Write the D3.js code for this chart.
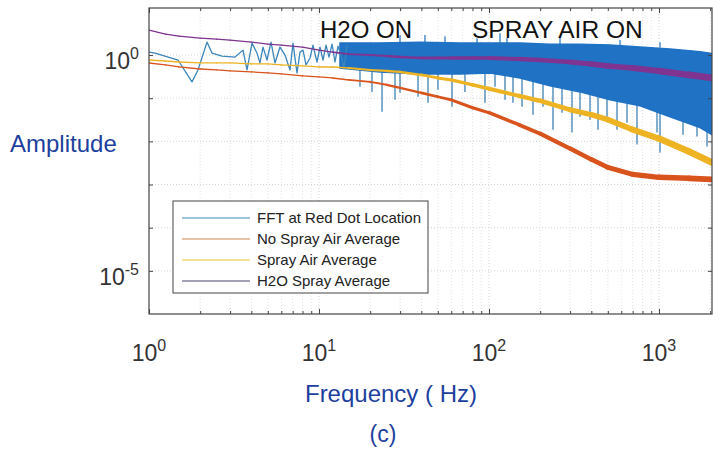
<!DOCTYPE html>
<html><head><meta charset="utf-8">
<script src="https://cdn.jsdelivr.net/npm/d3@7"></script>
<style>body{margin:0;background:#fff;} text{font-family:"Liberation Sans",Arial,sans-serif;}</style>
</head><body><svg id="c" width="719" height="449"></svg>
<script>
// ---------- data ----------
const freqAvg = [1, 1.25, 1.5, 2, 2.5, 3, 4, 5, 6, 8, 10, 12, 15, 20, 25, 30, 40, 50, 60, 80, 100, 150, 200, 300, 400, 500, 700, 1000, 1500, 2048];
const noSprayAvg = [0.655,0.589,0.530,0.475,0.451,0.428,0.406,0.385,0.365,0.328,0.311,0.295,0.265,0.239,0.204,0.174,0.133,0.108,0.0918,0.0601,0.0461,0.0244,0.0151,0.00682,0.00381,0.00249,0.00172,0.00147,0.00139,0.00132];
const sprayAvg = [0.767,0.727,0.690,0.655,0.655,0.655,0.621,0.621,0.589,0.558,0.530,0.530,0.501,0.451,0.428,0.406,0.346,0.295,0.265,0.204,0.165,0.1135,0.0871,0.0541,0.0415,0.0318,0.0187,0.0116,0.00582,0.00325];
const h2oAvg = [3.77,3.05,2.74,2.47,2.34,2.22,1.99,1.79,1.70,1.53,1.30,1.17,1.05,1.0,0.948,0.899,0.853,0.853,0.853,0.853,0.853,0.809,0.767,0.690,0.621,0.558,0.501,0.428,0.346,0.295];

// FFT at low frequency (individual bins)
const fftLowFreq = [1,1.085,1.242,1.481,1.790,1.942,2.194,2.348,2.688,3.206,3.572,3.772,4.036,4.318,4.497,4.684,4.945,5.220,5.511,5.897,6.310,6.752,7.033,7.424,7.732,8.053,8.386,8.855,9.219,9.732,10.14,10.56,11.0,11.45,11.93,12.42,12.94,13.47,14.03,14.61];
const fftLowAmp  = [1.17,1.11,0.948,0.767,0.239,0.451,1.99,1.11,0.948,0.899,1.30,0.451,1.89,1.11,0.655,1.53,0.767,1.99,0.655,1.53,1.0,0.451,1.89,0.385,1.17,1.30,0.589,0.853,1.70,0.690,1.53,0.767,1.70,0.899,1.79,0.690,1.61,1.0,0.501,1.70];
// FFT dense band envelope at higher frequency
const bandFreq  = [13.29,22.85,39.28,67.5,101.4,152.2,228.5,343.0,515,773,1160,1743,2048];
const bandUpper = [1.89,1.89,1.99,1.89,1.89,1.89,1.79,1.79,1.70,1.53,1.38,1.20,1.08];
const bandLower = [0.501,0.406,0.365,0.365,0.385,0.295,0.193,0.140,0.0918,0.0668,0.0373,0.0208,0.0143];
// FFT downward spikes
const spikeFreq = [17.42,20.50,23.48,28.0,29.96,38.23,43.77,50.1,60.6,72.2,94.7,108.5,124.2,138.4,156.4,181.5,207.8,237.9,268.8,307.7,343.0,392.8,437.7,494.5,566.2,648.2,742.3,973.2,1013.7,1384,1673,1916];
const spikeAmp  = [0.183,0.140,0.0486,0.0918,0.133,0.108,0.0784,0.156,0.0633,0.140,0.0784,0.183,0.0918,0.0784,0.0633,0.0414,0.0633,0.0187,0.0461,0.0160,0.0373,0.0318,0.0187,0.0373,0.0187,0.0271,0.00844,0.0160,0.00552,0.0143,0.0129,0.00759];
// FFT upward peaks
const peakFreq = [29.96,42.0,55.1,85.0,116.1,127.6,261.6,589.8,1013.7];
const peakAmp  = [2.89,2.90,2.74,2.46,3.21,2.48,2.60,2.22,1.99];

const xTickValues = [1, 10, 100, 1000];
const xTickExp = ["0","1","2","3"];
const yTickValues = [1e-6,1e-5,1e-4,1e-3,1e-2,1e-1,1,10];
const yLabelValues = [1, 1e-5];
const yLabelExp = ["0","-5"];
const legendLabels = ["FFT at Red Dot Location","No Spray Air Average","Spray Air Average","H2O Spray Average"];
const legendColors = ["#3f8fc0","#d08a50","#e6c440","#4e4470"];

// ---------- drawing ----------
const svg = d3.select("#c");
const L = 149, R = 712, T = 8, B = 314;
const x = d3.scaleLog().domain([1, 2050]).range([L, R]);
const y = d3.scaleLog().domain([1e-6, 12.3]).range([B, T]);

const minorX = [];
for (let d = 0; d <= 3; d++) for (let k = 2; k <= 9; k++) { const v = k * Math.pow(10, d); if (v < 2050) minorX.push(v); }

svg.append("defs").append("clipPath").attr("id","clip").append("rect")
  .attr("x",L).attr("y",T).attr("width",R-L).attr("height",B-T);

// grid
const grid = svg.append("g");
grid.selectAll(".gmx").data(minorX).join("line")
  .attr("x1",d=>x(d)).attr("x2",d=>x(d)).attr("y1",T).attr("y2",B)
  .attr("stroke","#e4e4e4").attr("stroke-width",1).attr("stroke-dasharray","1,2");
grid.selectAll(".gMx").data(xTickValues.slice(1)).join("line")
  .attr("x1",d=>x(d)).attr("x2",d=>x(d)).attr("y1",T).attr("y2",B)
  .attr("stroke","#d4d4d4").attr("stroke-width",1).attr("stroke-dasharray","1,2");
grid.selectAll(".gy").data(yTickValues.slice(1,7)).join("line")
  .attr("x1",L).attr("x2",R).attr("y1",d=>y(d)).attr("y2",d=>y(d))
  .attr("stroke","#d4d4d4").attr("stroke-width",1).attr("stroke-dasharray","1,2");

const plot = svg.append("g").attr("clip-path","url(#clip)");

// spikes (under the band)
plot.selectAll(".sp").data(spikeFreq).join("line")
  .attr("x1",d=>x(d)).attr("x2",d=>x(d)).attr("y1",y(1)).attr("y2",(d,i)=>y(spikeAmp[i]))
  .attr("stroke","#2f78ae").attr("stroke-width",1.2);
plot.selectAll(".pk").data(peakFreq).join("line")
  .attr("x1",d=>x(d)).attr("x2",d=>x(d)).attr("y1",y(1.5)).attr("y2",(d,i)=>y(peakAmp[i]))
  .attr("stroke","#1f72c4").attr("stroke-width",1.2);
// FFT band
const band = d3.area().x((d,i)=>x(bandFreq[i])).y0((d,i)=>y(bandLower[i])).y1((d,i)=>y(bandUpper[i]));
plot.append("path").datum(bandFreq).attr("d",band).attr("fill","#1f72c4").attr("stroke","#1f72c4").attr("stroke-width",1.5);
// FFT low-frequency line
const lowLine = d3.line().x((d,i)=>x(fftLowFreq[i])).y((d,i)=>y(fftLowAmp[i]));
plot.append("path").datum(fftLowFreq).attr("d",lowLine).attr("fill","none")
  .attr("stroke","#3a86bd").attr("stroke-width",1.3).attr("stroke-linejoin","round");

// averages with growing noise thickness
function thickLine(vals, color, wmax) {
  const lf1 = 1, lf2 = Math.log10(2050);
  const g = plot.append("g");
  for (let i = 0; i < freqAvg.length - 1; i++) {
    const fm = Math.sqrt(freqAvg[i] * freqAvg[i+1]);
    const t = Math.max(0, Math.min(1, (Math.log10(fm) - lf1) / (lf2 - lf1)));
    g.append("line")
      .attr("x1",x(freqAvg[i])).attr("y1",y(vals[i]))
      .attr("x2",x(freqAvg[i+1])).attr("y2",y(vals[i+1]))
      .attr("stroke",color).attr("stroke-width",1.3 + t*(wmax-1.3)).attr("stroke-linecap","round");
  }
}
thickLine(noSprayAvg, "#d9531c", 6);
thickLine(sprayAvg, "#edb323", 7);
thickLine(h2oAvg, "#7e3490", 7);

// axes (inward ticks)
const axB = svg.append("g").attr("transform",`translate(0,${B})`);
axB.call(d3.axisBottom(x).tickValues(minorX).tickSize(-3).tickFormat(""));
axB.append("g").call(d3.axisBottom(x).tickValues(xTickValues).tickSize(-5).tickFormat(""));
const axT = svg.append("g").attr("transform",`translate(0,${T})`);
axT.call(d3.axisTop(x).tickValues(minorX).tickSize(-3).tickFormat(""));
axT.append("g").call(d3.axisTop(x).tickValues(xTickValues).tickSize(-5).tickFormat(""));
const axL = svg.append("g").attr("transform",`translate(${L},0)`);
axL.call(d3.axisLeft(y).tickValues(yTickValues.slice(1,7)).tickSize(-4).tickFormat(""));
const axR = svg.append("g").attr("transform",`translate(${R},0)`);
axR.call(d3.axisRight(y).tickValues(yTickValues.slice(1,7)).tickSize(-4).tickFormat(""));
svg.selectAll(".domain").remove();
svg.selectAll(".tick line").attr("stroke","#444");
svg.append("rect").attr("x",L).attr("y",T).attr("width",R-L).attr("height",B-T)
  .attr("fill","none").attr("stroke","#444").attr("stroke-width",1.2);

// tick labels
xTickValues.forEach((v,i)=>{
  const t = svg.append("text").attr("x",x(v)).attr("y",361).attr("text-anchor","middle")
    .attr("fill","#333").attr("font-size",23);
  t.append("tspan").text("10");
  t.append("tspan").attr("dy",-10).attr("font-size",16).text(xTickExp[i]);
});
yLabelValues.forEach((v,i)=>{
  const t = svg.append("text").attr("x",139).attr("y",y(v)+14).attr("text-anchor","end")
    .attr("fill","#333").attr("font-size",23);
  t.append("tspan").text("10");
  t.append("tspan").attr("dy",-10).attr("font-size",16).text(yLabelExp[i]);
});

// axis labels
svg.append("text").attr("x",10).attr("y",152).attr("fill","#1d3f9e").attr("font-size",24).text("Amplitude");
svg.append("text").attr("x",391).attr("y",402).attr("text-anchor","middle").attr("fill","#1d3f9e").attr("font-size",24).text("Frequency ( Hz)");
svg.append("text").attr("x",383).attr("y",442).attr("text-anchor","middle").attr("fill","#1d3f9e").attr("font-size",23).text("(c)");

// annotations
svg.append("text").attr("x",320).attr("y",38).attr("fill","#111").attr("font-size",24).text("H2O ON");
svg.append("text").attr("x",472).attr("y",38).attr("fill","#111").attr("font-size",24.5).text("SPRAY AIR ON");

// legend
const lg = svg.append("g");
lg.append("rect").attr("x",173).attr("y",201).attr("width",255).attr("height",92)
  .attr("fill","#fff").attr("stroke","#444").attr("stroke-width",1);
legendLabels.forEach((lab,i)=>{
  const yy = 218 + i*21;
  lg.append("line").attr("x1",182).attr("x2",250).attr("y1",yy).attr("y2",yy)
    .attr("stroke",legendColors[i]).attr("stroke-width",1.2);
  lg.append("text").attr("x",257).attr("y",yy+5).attr("fill","#222").attr("font-size",15).text(lab);
});
</script></body></html>
